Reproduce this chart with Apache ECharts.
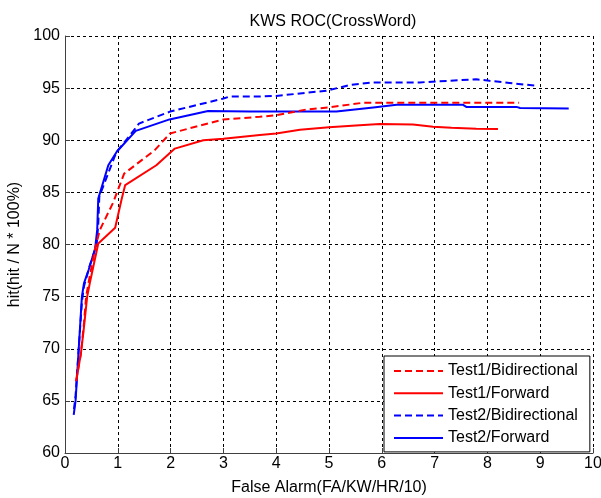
<!DOCTYPE html>
<html>
<head>
<meta charset="utf-8">
<script src="https://cdn.jsdelivr.net/npm/echarts@6/dist/echarts.min.js"></script>
<style>
  html, body { margin: 0; padding: 0; background: #fff; }
  #main { width: 601px; height: 498px; }
</style>
</head>
<body>
<div id="main"></div>
<script>
// [false alarm, hit%]
var test1Bi = [[0.21,66.9],[0.3,69.5],[0.36,72.5],[0.4,75],[0.47,77],[0.57,79.6],[0.66,81.4],[0.91,84.0],[1.12,86.8],[1.7,89.05],[1.99,90.65],[3.0,92.0],[3.69,92.25],[4.0,92.4],[4.57,92.95],[5.0,93.15],[5.65,93.6],[8.6,93.6]];
var test1Fw = [[0.21,66.9],[0.3,69.5],[0.35,71.65],[0.42,75],[0.47,76.3],[0.63,80.1],[0.95,81.6],[1.07,84.3],[1.14,85.7],[1.73,87.6],[2.08,89.2],[2.62,90.0],[3.0,90.15],[3.69,90.5],[4.0,90.65],[4.45,91.0],[5.0,91.25],[5.58,91.45],[5.96,91.55],[6.59,91.5],[6.97,91.3],[7.32,91.2],[7.79,91.1],[8.2,91.08]];
var test2Bi = [[0.17,64.2],[0.2,65.5],[0.26,70],[0.32,74.5],[0.36,76],[0.47,78],[0.6,80],[0.63,82],[0.65,84.6],[0.93,88.3],[0.98,88.9],[1.36,91.3],[1.4,91.6],[1.99,92.75],[3.0,94.0],[3.12,94.2],[3.69,94.2],[4.0,94.25],[4.95,94.75],[5.4,95.3],[5.84,95.55],[6.72,95.55],[6.75,95.7],[7.79,95.85],[8.04,95.7],[8.42,95.5],[8.68,95.35],[8.9,95.25]];
var test2Fw = [[0.165,63.65],[0.2,65],[0.26,70],[0.32,75],[0.36,76.3],[0.45,77.6],[0.57,79.6],[0.61,81.4],[0.63,84.4],[0.82,87.6],[0.98,88.9],[1.34,90.9],[1.98,92.0],[2.71,92.8],[3.5,92.75],[5.14,92.75],[5.84,93.15],[6.28,93.4],[7.54,93.4],[7.6,93.2],[8.55,93.2],[8.62,93.1],[9.54,93.05]];

var seriesNames = ['Test1/Bidirectional', 'Test1/Forward', 'Test2/Bidirectional', 'Test2/Forward'];
var seriesData = [test1Bi, test1Fw, test2Bi, test2Fw];
var seriesColors = ['#ff0000', '#ff0000', '#0000ff', '#0000ff'];
var seriesDashed = [true, false, true, false];

var font = 'Liberation Sans, Arial, sans-serif';
var gridLine = { show: true, lineStyle: { color: '#000', width: 1, type: [3, 3] } };

var chart = echarts.init(document.getElementById('main'));
chart.setOption({
  animation: false,
  backgroundColor: '#fff',
  title: {
    text: 'KWS ROC(CrossWord)',
    left: 328, top: 9, textAlign: 'center',
    textStyle: { fontFamily: font, fontSize: 16, fontWeight: 'normal', color: '#000' }
  },
  grid: { left: 65, right: 8, top: 36, bottom: 45, outerBoundsMode: 'none' },
  legend: {
    data: seriesNames,
    orient: 'vertical',
    left: 384, top: 356,
    padding: [7, 12, 6, 9],
    itemWidth: 49, itemHeight: 16, itemGap: 6.3,
    borderColor: '#000', borderWidth: 1, backgroundColor: '#fff',
    itemStyle: { opacity: 0 },
    textStyle: { fontFamily: font, fontSize: 16, color: '#000' }
  },
  xAxis: {
    type: 'value', min: 0, max: 10, interval: 1,
    name: 'False Alarm(FA/KW/HR/10)', nameLocation: 'middle', nameGap: 27,
    nameTextStyle: { fontFamily: font, fontSize: 16, color: '#000' },
    axisLine: { show: true, onZero: false, lineStyle: { color: '#404040', width: 1 } },
    axisTick: { show: true, inside: true, length: 5, lineStyle: { color: '#404040' } },
    axisLabel: { fontFamily: font, fontSize: 16, color: '#000', margin: 3 },
    splitLine: gridLine
  },
  yAxis: {
    type: 'value', min: 60, max: 100, interval: 5,
    name: 'hit(hit / N * 100%)', nameLocation: 'middle', nameGap: 38,
    nameTextStyle: { fontFamily: font, fontSize: 16, color: '#000' },
    axisLine: { show: true, lineStyle: { color: '#404040', width: 1 } },
    axisTick: { show: true, inside: true, length: 5, lineStyle: { color: '#404040' } },
    axisLabel: { fontFamily: font, fontSize: 16, color: '#000', margin: 5 },
    splitLine: gridLine
  },
  series: seriesNames.map(function (name, i) {
    return {
      name: name,
      type: 'line',
      data: seriesData[i],
      showSymbol: false,
      symbol: 'none',
      color: seriesColors[i],
      lineStyle: { color: seriesColors[i], width: 2, type: seriesDashed[i] ? [7, 4] : 'solid' },
      z: 10 - i
    };
  })
});
</script>
</body>
</html>
